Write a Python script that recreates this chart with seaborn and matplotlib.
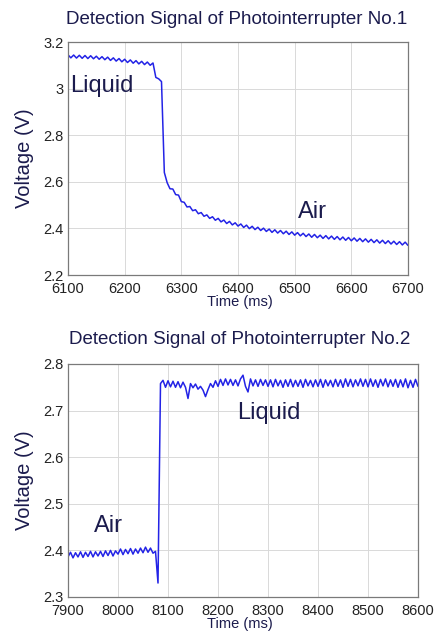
import numpy as np
import pandas as pd
import matplotlib.pyplot as plt
import seaborn as sns

# signal 1, sampled every 5 ms from 6100 ms
t1_start = 6100
v1 = [3.145, 3.132, 3.144, 3.131, 3.143, 3.130, 3.142, 3.129, 3.141, 3.128,
      3.139, 3.126, 3.137, 3.124, 3.135, 3.121, 3.132, 3.118, 3.129, 3.115,
      3.126, 3.112, 3.123, 3.109, 3.120, 3.106, 3.117, 3.103, 3.114, 3.100,
      3.110, 3.048, 3.042, 3.030, 2.640, 2.596, 2.570, 2.569, 2.545, 2.543,
      2.515, 2.512, 2.492, 2.494, 2.476, 2.480, 2.463, 2.468, 2.452, 2.458,
      2.443, 2.450, 2.435, 2.443, 2.428, 2.436, 2.421, 2.430, 2.415, 2.424,
      2.410, 2.419, 2.404, 2.414, 2.399, 2.409, 2.395, 2.405, 2.391, 2.401,
      2.387, 2.397, 2.383, 2.394, 2.380, 2.391, 2.377, 2.388, 2.374, 2.385,
      2.371, 2.382, 2.368, 2.379, 2.365, 2.376, 2.362, 2.374, 2.360, 2.371,
      2.357, 2.369, 2.355, 2.367, 2.353, 2.365, 2.351, 2.363, 2.349, 2.361,
      2.347, 2.359, 2.345, 2.357, 2.343, 2.355, 2.341, 2.353, 2.339, 2.351,
      2.337, 2.349, 2.335, 2.347, 2.333, 2.345, 2.331, 2.343, 2.329, 2.341,
      2.327]

# signal 2, sampled every 5 ms from 7900 ms
t2_start = 7900
v2 = [2.386, 2.396, 2.384, 2.395, 2.386, 2.397, 2.385, 2.396, 2.387, 2.398,
      2.386, 2.397, 2.388, 2.398, 2.387, 2.399, 2.389, 2.400, 2.388, 2.399,
      2.392, 2.403, 2.391, 2.402, 2.393, 2.404, 2.392, 2.403, 2.394, 2.405,
      2.395, 2.407, 2.396, 2.405, 2.394, 2.398, 2.330, 2.758, 2.765, 2.750,
      2.764, 2.751, 2.763, 2.750, 2.762, 2.749, 2.761, 2.750, 2.726, 2.758,
      2.749, 2.757, 2.746, 2.752, 2.744, 2.730, 2.745, 2.758, 2.750, 2.764,
      2.752, 2.767, 2.754, 2.768, 2.755, 2.767, 2.754, 2.766, 2.753, 2.768,
      2.776, 2.752, 2.740, 2.768, 2.753, 2.766, 2.752, 2.767, 2.754, 2.766,
      2.752, 2.766, 2.751, 2.767, 2.753, 2.765, 2.750, 2.766, 2.752, 2.767,
      2.751, 2.765, 2.752, 2.766, 2.750, 2.767, 2.753, 2.765, 2.751, 2.766,
      2.752, 2.767, 2.750, 2.766, 2.753, 2.765, 2.751, 2.767, 2.752, 2.766,
      2.750, 2.768, 2.752, 2.767, 2.751, 2.766, 2.753, 2.768, 2.752, 2.767,
      2.751, 2.768, 2.752, 2.766, 2.750, 2.767, 2.753, 2.768, 2.751, 2.766,
      2.752, 2.767, 2.750, 2.766, 2.751, 2.768, 2.749, 2.765, 2.750, 2.767,
      2.752]

df1 = pd.DataFrame({"t": t1_start + 5 * np.arange(len(v1)), "v": v1})
df2 = pd.DataFrame({"t": t2_start + 5 * np.arange(len(v2)), "v": v2})

sns.set_style('whitegrid')
plt.rcParams['font.family'] = ['Liberation Sans', 'DejaVu Sans']
navy = '#1b1b4d'
line_c = '#2323e6'

fig = plt.figure(figsize=(4.35, 6.37), dpi=100)
W, H = 435, 637

def setup(ax, xlim, ylim, yticks, ylabels):
    ax.set_xlim(*xlim)
    ax.set_ylim(*ylim)
    ax.set_yticks(yticks)
    ax.set_yticklabels(ylabels)
    ax.grid(True, color='#d9d9d9', linewidth=0.7)
    for s in ax.spines.values():
        s.set_color('#7a7a7a')
        s.set_linewidth(0.9)
    ax.tick_params(labelsize=10.5, colors='#222222', length=0)
    ax.tick_params(axis='y', pad=3)
    ax.tick_params(axis='x', pad=5)
    ax.set_xlabel('')
    ax.set_ylabel('')

ax1 = fig.add_axes([68 / W, 1 - 275 / H, 340 / W, 233 / H])
sns.lineplot(data=df1, x="t", y="v", ax=ax1, color=line_c, linewidth=1.1)
setup(ax1, (6100, 6700), (2.2, 3.2), [2.2, 2.4, 2.6, 2.8, 3.0, 3.2],
      ['2.2', '2.4', '2.6', '2.8', '3', '3.2'])
ax1.set_xticks([6100, 6200, 6300, 6400, 6500, 6600, 6700])
ax1.text(6103, 3.01, 'Liquid', fontsize=17, color=navy, va='center')
ax1.text(6505, 2.47, 'Air', fontsize=17, color=navy, va='center')

ax2 = fig.add_axes([68 / W, 1 - 597 / H, 350 / W, 233 / H])
sns.lineplot(data=df2, x="t", y="v", ax=ax2, color=line_c, linewidth=1.1)
setup(ax2, (7900, 8600), (2.3, 2.8), [2.3, 2.4, 2.5, 2.6, 2.7, 2.8],
      ['2.3', '2.4', '2.5', '2.6', '2.7', '2.8'])
ax2.set_xticks([7900, 8000, 8100, 8200, 8300, 8400, 8500, 8600])
ax2.text(8238, 2.695, 'Liquid', fontsize=17, color=navy, va='center')
ax2.text(7952, 2.452, 'Air', fontsize=17, color=navy, va='center')

fig.text(237 / W, 1 - 19 / H, 'Detection Signal of Photointerrupter No.1',
         ha='center', va='center', fontsize=13.5, color=navy)
fig.text(240 / W, 1 - 339 / H, 'Detection Signal of Photointerrupter No.2',
         ha='center', va='center', fontsize=13.5, color=navy)

for yc, ax_mid in [(302, 158), (624, 480)]:
    fig.text(240 / W, 1 - yc / H, 'Time (ms)', ha='center', va='center',
             fontsize=10.5, color=navy)
    fig.text(25 / W, 1 - ax_mid / H, 'Voltage (V)', ha='center', va='center',
             rotation=90, fontsize=14.5, color=navy)

plt.savefig("out.png", dpi=100)
